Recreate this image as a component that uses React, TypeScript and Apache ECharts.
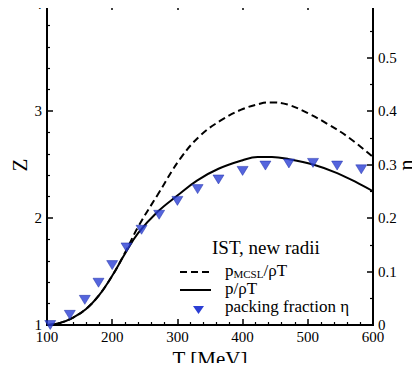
import React, { useEffect, useRef } from "react";
import * as echarts from "echarts";

// Temperature (MeV) and compressibility Z = p/(rho T)
const T_SOLID = [100, 120, 140, 160, 180, 200, 220, 240, 270, 300, 330, 363, 400, 423, 445, 471, 508, 545, 582, 600];
const Z_SOLID = [1.0, 1.02, 1.07, 1.15, 1.28, 1.46, 1.67, 1.86, 2.06, 2.21, 2.35, 2.46, 2.54, 2.57, 2.57, 2.55, 2.5, 2.42, 2.31, 2.25];

const T_DASHED = [100, 120, 140, 160, 180, 200, 220, 240, 270, 305, 335, 366, 397, 428, 445, 469, 500, 530, 561, 600];
const Z_DASHED = [1.0, 1.02, 1.07, 1.15, 1.28, 1.46, 1.68, 1.92, 2.22, 2.56, 2.77, 2.91, 3.01, 3.07, 3.08, 3.06, 2.98, 2.88, 2.76, 2.57];

// Packing fraction eta (right axis)
const T_ETA = [105, 135, 158, 179, 200, 222, 245, 272, 300, 331, 363, 400, 435, 471, 508, 545, 582];
const ETA = [0.0, 0.019, 0.047, 0.079, 0.112, 0.145, 0.178, 0.206, 0.232, 0.254, 0.272, 0.288, 0.298, 0.302, 0.303, 0.298, 0.291];

const X_LABEL = "T [MeV]";
const Y_LABEL = "Z";
const Y2_LABEL = "η";
const LEGEND_TITLE = "IST, new radii";

const FONT = "Liberation Serif, serif";
const BLUE = "#2b3ed4";

function axisParts(splitMinor: number) {
  return {
    axisLine: { show: true, lineStyle: { color: "#000", width: 2 } },
    axisTick: { show: true, inside: true, length: 6, lineStyle: { color: "#000", width: 1.5 } },
    minorTick: { show: true, splitNumber: splitMinor, length: 3, lineStyle: { color: "#000", width: 1.2 } },
    splitLine: { show: false },
  };
}

export default function App() {
  const ref = useRef<HTMLDivElement>(null);
  useEffect(() => {
    if (!ref.current) return;
    const chart = echarts.init(ref.current, undefined, { renderer: "svg" });
    const labelBase = { color: "#000", fontFamily: FONT, fontSize: 15 };
    chart.setOption({
      animation: false,
      grid: {
        left: 47, right: 47, top: 4, bottom: 46, outerBoundsMode: "none",
        show: true, borderColor: "#000", borderWidth: 2, backgroundColor: "transparent",
      },
      xAxis: [
        {
          type: "value", position: "bottom", min: 100, max: 600, interval: 100,
          ...axisParts(5),
          axisLabel: { ...labelBase, margin: 4 },
        },
        {
          type: "value", position: "top", min: 100, max: 600, interval: 100,
          ...axisParts(5),
          axisLabel: { show: false },
        },
      ],
      yAxis: [
        {
          type: "value", position: "left", min: 1, max: 4, interval: 1,
          ...axisParts(5),
          axisLabel: { ...labelBase, margin: 5 },
        },
        {
          type: "value", position: "right", min: 0, max: 0.6, interval: 0.1,
          ...axisParts(2),
          axisLabel: {
            ...labelBase, margin: 5,
            formatter: (v: number) => (v > 0.55 ? "" : v === 0 ? "0" : String(Math.round(v * 10) / 10)),
          },
        },
      ],
      series: [
        {
          type: "line", name: "pMCSL", xAxisIndex: 0, yAxisIndex: 0, smooth: 0.4, symbol: "none",
          data: T_DASHED.map((t, i) => [t, Z_DASHED[i]]),
          lineStyle: { color: "#000", width: 2, type: [7, 4] },
        },
        {
          type: "line", name: "p", xAxisIndex: 0, yAxisIndex: 0, smooth: 0.4, symbol: "none",
          data: T_SOLID.map((t, i) => [t, Z_SOLID[i]]),
          lineStyle: { color: "#000", width: 2 },
        },
        {
          type: "scatter", name: "eta", xAxisIndex: 0, yAxisIndex: 1,
          symbol: "triangle", symbolRotate: 180, symbolSize: [11, 9],
          data: T_ETA.map((t, i) => [t, ETA[i]]),
          itemStyle: { color: BLUE, borderColor: "#1a2aa8", borderWidth: 0.6 },
          clip: false, z: 5,
        },
      ],
      graphic: [
        {
          type: "text", x: 210, y: 359,
          style: { text: X_LABEL, fontFamily: FONT, fontSize: 21, fill: "#000", align: "center", verticalAlign: "middle" },
        },
        {
          type: "text", x: 20, y: 165, rotation: Math.PI / 2,
          style: { text: Y_LABEL, fontFamily: FONT, fontSize: 21, fill: "#000", align: "center", verticalAlign: "middle" },
        },
        {
          type: "text", x: 406, y: 165, rotation: Math.PI / 2,
          style: { text: Y2_LABEL, fontFamily: FONT, fontSize: 21, fill: "#000", align: "center", verticalAlign: "middle" },
        },
        { type: "text", left: 212, top: 238, style: { text: LEGEND_TITLE, fontFamily: FONT, fontSize: 19, fill: "#000" } },
        { type: "line", shape: { x1: 180, y1: 272, x2: 211, y2: 272 }, style: { stroke: "#000", lineWidth: 2, lineDash: [7, 4] } },
        {
          type: "text", left: 225, top: 262,
          style: {
            text: "{a|p}{b|MCSL}{a|/ρT}", fill: "#000",
            rich: {
              a: { fontFamily: FONT, fontSize: 17, fill: "#000", verticalAlign: "bottom" },
              b: { fontFamily: FONT, fontSize: 11, fill: "#000", verticalAlign: "bottom" },
            },
          },
        },
        { type: "line", shape: { x1: 180, y1: 290, x2: 211, y2: 290 }, style: { stroke: "#000", lineWidth: 2 } },
        { type: "text", left: 225, top: 280, style: { text: "p/ρT", fontFamily: FONT, fontSize: 17, fill: "#000" } },
        { type: "polygon", shape: { points: [[193, 306], [204, 306], [198.5, 314]] }, style: { fill: BLUE } },
        { type: "text", left: 225, top: 298, style: { text: "packing fraction η", fontFamily: FONT, fontSize: 17, fill: "#000" } },
      ],
    });
    return () => chart.dispose();
  }, []);
  return <div ref={ref} style={{ width: 420, height: 371, margin: -8 }} />;
}
